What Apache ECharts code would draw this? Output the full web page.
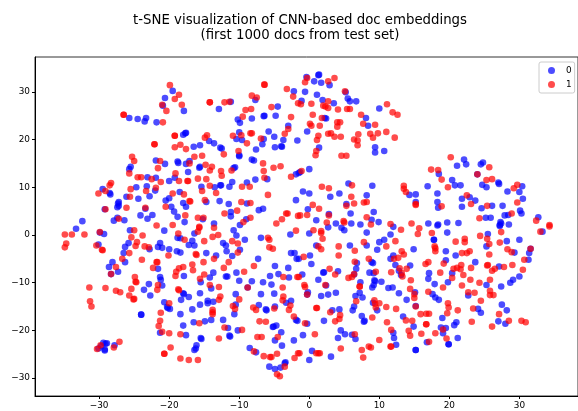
<!DOCTYPE html>
<html>
<head>
<meta charset="utf-8">
<script src="https://cdn.jsdelivr.net/npm/echarts@6/dist/echarts.min.js"></script>
<style>html,body{margin:0;padding:0;background:#fff}#c{width:578px;height:411px}</style>
</head>
<body>
<div id="c"></div>
<script>
const titleLines = ['t-SNE visualization of CNN-based doc embeddings', '(first 1000 docs from test set)'];
const classNames = ['0', '1'];
const xTicks = [-30, -20, -10, 0, 10, 20, 30];
const yTicks = [-30, -20, -10, 0, 10, 20, 30];
const class0 = [
[-19.5,30.2],[-20.6,28.7],[-20.9,27.1],[-17.9,26.0],[-25.7,24.5],[-24.5,24.3],[-23.3,24.5],[-23.5,23.8],[-21.8,23.6],[-12.9,26.4],[-11.2,27.9],[-7.7,28.3],[-2.2,30.1],[-4.5,26.9],[-6.5,24.9],[-6.4,25.0],[-4.8,25.0],[-8.2,24.4],[-10.2,24.2],[-9.9,23.5],[-3.0,22.9],[-17.6,21.4],[-17.7,21.3],[-18.0,21.0],[-10.0,21.5],[-10.4,20.1],[-9.6,19.9],[-5.8,21.7],[-5.0,20.6],[-6.5,20.1],[-6.7,19.0],[-7.6,17.9],[-3.7,19.9],[-4.9,18.4],[-3.9,18.5],[-4.0,18.6],[-1.7,19.8],[-14.3,19.7],[-13.6,19.2],[-12.7,18.3],[-12.5,18.1],[-16.5,18.5],[-15.6,18.8],[-10.0,16.5],[-10.0,16.7],[-8.2,15.8],[-7.9,15.6],[-18.8,15.4],[-18.7,15.1],[-21.9,15.6],[-20.6,14.9],[-17.6,14.9],[-17.1,15.5],[-15.7,14.1],[-15.6,14.3],[-17.3,13.2],[-10.6,14.2],[-10.8,14.0],[-25.5,14.3],[-25.7,13.8],[-23.1,12.1],[-21.9,12.0],[-20.0,11.3],[-19.2,12.0],[-11.0,11.1],[-7.7,11.6],[-8.9,11.0],[-6.0,11.7],[-1.9,12.7],[-1.5,13.0],[-12.6,10.4],[-12.7,10.4],[-13.5,10.0],[-11.4,10.1],[-15.4,10.1],[-24.7,10.0],[-23.2,10.2],[-22.0,9.3],[-29.5,9.6],[-28.4,8.5],[-28.5,8.8],[-26.1,8.0],[-24.4,7.6],[-22.8,8.1],[-18.5,9.0],[-20.0,7.7],[-20.5,7.2],[-18.0,6.7],[-17.6,5.9],[-14.7,6.9],[-12.8,7.1],[-11.5,6.5],[-8.9,6.6],[-6.6,5.5],[-7.2,5.2],[-1.9,7.3],[-27.2,6.9],[-27.3,6.6],[-27.2,6.1],[-27.4,5.8],[-29.2,5.4],[-19.7,5.9],[-19.3,4.9],[-18.8,3.8],[-23.4,5.5],[-24.1,4.1],[-22.4,4.2],[-23.1,3.4],[-32.4,2.9],[-27.9,3.0],[-27.4,3.6],[-26.4,3.1],[-11.2,4.8],[-11.2,3.9],[-9.0,3.3],[-15.2,3.3],[-17.8,2.7],[-13.6,2.4],[-9.9,2.1],
[-0.4,33.1],[1.3,33.5],[1.4,33.6],[0.7,32.2],[1.7,31.9],[2.9,31.4],[-0.6,30.0],[1.1,29.4],[5.2,29.9],[1.9,28.3],[3.5,27.6],[-1.1,28.1],[5.5,28.6],[5.8,28.0],[6.7,28.0],[10.0,26.5],[2.4,24.4],[2.2,24.5],[8.1,24.5],[8.4,22.9],[-0.3,21.7],[1.4,18.3],[9.4,18.4],[9.4,17.3],[10.7,17.6],[0,13.8],[-1.3,13.2],[22.1,15.8],[21.1,14.5],[22.4,14.8],[24.5,14.8],[24.8,15.2],[18.5,12.8],[24.0,12.7],[20.4,11.5],[20.8,10.4],[21.6,10.4],[24.7,10.5],[25.3,10.0],[27.0,11.0],[27.1,10.7],[30.4,10.2],[30.0,9.0],[30.5,7.6],[28.3,9.1],[16.9,10.2],[18.3,8.7],[14.3,8.4],[15.2,8.5],[15.2,6.9],[18.3,6.9],[18.4,5.7],[21.8,5.9],[21.8,7.6],[22.9,7.9],[23.7,7.2],[24.6,5.6],[26.1,6.1],[27.6,6.1],[30.1,5.1],[30.3,4.5],[27.9,4.1],[28.4,4.2],[25.2,3.6],[25.9,3.6],[27.3,2.7],[27.4,2.4],[32.7,3.7],[28.5,2.2],[-0.9,9.1],[0,8.7],[3.0,8.0],[4.3,8.7],[5.6,10.8],[9.0,10.3],[8.2,8.3],[5.3,6.5],[5.9,4.5],[9.2,4.8],[-0.2,5.4],[2.8,4.4],[1.0,3.1],[3.8,2.4],[6.0,2.4],[7.3,2.2],[8.9,3.2],[9.9,2.7],[17.0,2.4],[18.4,2.2],[18.3,2.0],[19.7,2.6],[21.3,2.5],
[-33.3,1.3],[-29.9,0.5],[-29.3,0.2],[-25.6,1.0],[-20.7,0.9],[-18.8,-0.6],[-18.4,-0.7],[-30.1,-2.0],[-25.8,-1.7],[-26.3,-2.5],[-26.5,-3.8],[-26.3,-5.7],[-21.3,-1.7],[-21.6,-2.5],[-21.0,-2.7],[-22.8,-3.0],[-20.0,-3.0],[-18.9,-3.4],[-18.4,-3.7],[-17.2,-2.1],[-16.7,-1.2],[-16.4,-2.2],[-16.4,0.3],[-14.7,-3.8],[-13.3,-4.3],[-12.3,-1.7],[-11.9,-2.2],[-11.8,-3.4],[-11.0,-4.4],[-10.8,1.0],[-10.4,-0.1],[-9.2,-1.0],[-9.9,-3.1],[-6.9,-0.6],[-7.3,-5.0],[-2.7,0.1],[-2.6,-3.8],[-2.1,-3.8],[-1.8,-5.0],[-4.9,-6.5],[-3.0,-6.9],[-28.1,-5.7],[-28.6,-6.7],[-27.3,-7.7],[-28.3,-8.2],[-21.6,-7.1],[-21.3,-8.8],[-21.2,-9.4],[-21.0,-10.6],[-22.9,-10.3],[-23.6,-11.5],[-22.7,-12.7],[-17.9,-8.6],[-15.5,-9.9],[-14.2,-8.9],[-13.7,-7.9],[-14.0,-11.2],[-11.9,-8.7],[-11.7,-8.7],[-10.4,-7.9],[-10.0,-9.6],[-8.2,-9.7],[-6.6,-9.9],[-5.6,-8.6],[-4.4,-8.2],[-2.9,-8.9],[-5.4,-10.4],[-8.8,-11.0],[-17.9,-12.4],[-18.0,-12.2],[-17.2,-13.0],[-18.3,-13.6],[-15.6,-12.2],[-14.5,-13.8],[-14.5,-14.3],[-15.6,-14.6],[-13.7,-14.0],[-10.5,-12.4],[-6.9,-12.4],[-5.0,-12.3],[-20.7,-14.1],[-20.2,-15.3],[-20.3,-15.1],[-19.9,-15.5],[-16.7,-15.6],[-10.5,-14.6],[-10.7,-16.6],[-7.2,-14.7],[-6.1,-15.8],[-6.2,-15.6],[-4.9,-15.0],[-3.3,-14.2],[-2.6,-13.8],[-18.4,-16.6],[-24.0,-16.7],[-24.0,-16.7],[-18.0,-19.0],[-16.5,-18.3],[-14.9,-18.1],[-14.0,-17.8],[-12.3,-17.8],[-11.6,-19.5],[-1.9,-17.8],[-1.7,-18.0],[-21.3,-20.5],[-17.6,-21.0],[-15.4,-21.8],[-15.5,-21.6],[-11.3,-21.3],[-11.4,-21.1],[-10.2,-20.0],[-5.1,-19.2],[-5.2,-19.3],[-4.7,-19.0],[-4.0,-20.4],[-4.9,-22.1],[-3.9,-23.2],[-2.2,-22.1],[-8.5,-23.7],[-7.6,-24.6],[-16.1,-23.1],[-16.4,-24.1],[-16.2,-23.8],[-29.4,-22.6],[-28.9,-22.7],[-29.1,-22.8],[-30.1,-23.8],[-29.2,-24.2],[-29.2,-24.0],[-27.8,-23.1],[-29.7,-23.3],[-5.7,-27.6],[-4.9,-28.1],[-4.1,-27.8],[-3.4,-26.7],[-3.5,-26.9],
[0,0.3],[2.7,1.6],[4.6,1.5],[5.0,1.0],[8.2,0.5],[11.6,0.1],[10.7,-1.0],[10.0,-1.5],[12.0,1.7],[8.2,-2.2],[5.8,-2.2],[9.7,-3.1],[1.0,-2.2],[0.1,-4.3],[0.3,-6.1],[-1.0,-8.3],[-1.5,-5.0],[2.0,-7.9],[2.1,-7.8],[4.1,-7.6],[1.3,-9.4],[2.4,-10.6],[-0.2,-12.0],[-0.3,-12.5],[1.7,-12.8],[2.7,-12.5],[3.8,-12.1],[6.8,-5.9],[6.7,-7.1],[6.4,-8.3],[7.3,-9.9],[8.9,-5.7],[9.1,-5.9],[8.6,-7.9],[9.2,-8.0],[11.6,-5.0],[12.0,-4.3],[12.3,-6.3],[12.8,-7.5],[13.1,-8.4],[14.4,-6.4],[14.9,-3.0],[9.4,-9.7],[9.3,-9.5],[9.2,-10.5],[10.3,-9.8],[9.0,-11.0],[11.3,-11.1],[11.9,-11.0],[12.8,-12.2],[7.2,-12.1],[6.6,-12.8],[7.6,-13.1],[13.9,-13.6],[15.1,-12.0],[17.0,-9.2],[17.1,-8.0],[17.9,-10.3],[19.8,-9.9],[20.4,-8.0],[19.5,-5.3],[20.9,-4.3],[23.7,-5.7],[19.5,-3.4],[17.6,-12.4],[18.0,-13.1],[18.5,-13.6],[9.1,-14.2],[9.7,-15.8],[6.4,-15.0],[6.2,-15.8],[4.3,-15.6],[3.3,-15.8],[2.1,-18.0],[-0.3,-18.6],[7.5,-17.0],[7.9,-18.0],[7.8,-18.2],[13.4,-17.1],[15.2,-14.9],[14.9,-19.2],[19.0,-17.4],[18.8,-19.4],[19.5,-19.5],[19.1,-20.6],[20.7,-18.9],[21.0,-18.3],[21.2,-21.6],[12.0,-20.5],[12.1,-21.6],[12.4,-23.0],[4.5,-20.0],[4.1,-21.6],[5.1,-20.8],[6.1,-20.9],[6.6,-21.8],[-0.9,-21.0],[0.4,-24.3],[0,-26.2],[3.1,-25.5],[15.2,-24.1],[15.2,-24.1],[19.9,-22.9],[19.9,-22.9],[16.8,-22.5],[24.1,-15.5],[24.5,-16.3],[22.7,-12.7],[25.3,-10.5],[27.4,-10.8],[27.5,-14.6],[28.2,-15.8],[27.0,-18.1],[28.0,-18.6],[28.7,-10.0],[29.1,-9.4],[30.0,-8.7],[27.1,-6.6],[29.3,-3.7],[28.2,-1.3],[30.0,-1.0],[31.4,-3.8],[31.3,-5.2],[31.6,-2.9],[33.3,0.7],[25.3,-2.4],[25.5,0.2],[27.2,1.9],[27.2,2.1],[19.7,0.5],[17.8,-1.0],[17.8,-1.0]
];
const class1 = [
[-19.9,31.4],[-18.6,29.4],[-19.2,28.5],[-21.0,27.3],[-20.4,26.0],[-18.2,27.3],[-26.5,25.2],[-26.5,25.2],[-20.9,23.6],[-6.4,31.5],[-6.4,31.5],[-3.2,30.6],[-2.3,29.0],[-8.2,29.2],[-7.5,28.8],[-14.2,27.8],[-14.2,27.8],[-12.1,27.8],[-11.4,27.9],[-9.1,26.2],[-8.3,26.4],[-9.5,24.8],[-5.4,26.8],[-2.6,24.7],[-1.6,27.6],[-19.2,20.8],[-19.2,20.8],[-14.6,20.9],[-14.9,20.4],[-10.9,20.8],[-9.7,20.9],[-8.4,21.3],[-8.2,21.3],[-6.9,20.2],[-8.9,19.2],[-3.0,22.2],[-3.5,21.2],[-22.1,19.0],[-22.1,19.0],[-19.2,18.4],[-18.4,18.9],[-17.6,18.0],[-10.1,17.6],[-12.2,16.9],[-16.4,16.4],[-15.3,16.6],[-25.3,16.4],[-25.0,15.5],[-21.3,15.5],[-17.1,15.0],[-14.8,14.7],[-13.9,14.3],[-14.2,13.5],[-12.6,13.4],[-12.5,12.4],[-11.1,13.5],[-6.6,15.0],[-6.5,13.4],[-6.4,12.0],[-5.1,14.1],[-4.1,14.4],[-2.6,12.2],[-21.6,14.0],[-25.7,12.9],[-19.1,12.9],[-24.5,12.1],[-24.0,12.1],[-22.5,11.7],[-21.2,11.1],[-18.6,11.3],[-17.3,11.3],[-17.4,11.3],[-15.9,11.8],[-14.7,11.7],[-28.3,10.9],[-28.5,10.4],[-30.1,8.7],[-29.1,9.2],[-25.5,9.6],[-23.3,9.2],[-21.9,9.9],[-19.5,8.7],[-17.9,8.5],[-17.1,7.1],[-17.0,7.0],[-15.3,9.2],[-14.2,10.3],[-13.3,8.8],[-9.6,10.1],[-8.5,10.1],[-5.9,8.4],[-14.9,7.3],[-9.7,6.9],[-8.4,6.7],[-25.6,8.0],[-26.1,5.7],[-23.4,5.7],[-20.5,5.9],[-29.1,5.4],[-17.7,4.1],[-15.9,3.6],[-15.1,3.6],[-12.1,4.5],[-10.3,5.1],[-3.1,4.5],[-3.3,4.5],[-1.6,4.0],[-3.9,3.3],[-4.7,2.4],[-8.4,3.6],[-9.4,2.7],[-27.2,3.4],[-21.8,2.0],[-19.5,2.1],[-15.7,1.7],
[-0.3,32.9],[-0.6,32.0],[2.7,32.2],[3.6,32.9],[5.1,30.1],[2.7,28.0],[0.3,27.5],[-1.2,27.4],[2.0,27.1],[2.3,26.9],[2.7,26.6],[4.1,26.3],[5.4,26.4],[5.8,26.4],[0.5,25.2],[1.8,24.5],[7.4,25.2],[11.1,27.4],[11.9,25.7],[12.6,25.2],[0.1,23.3],[0.3,22.9],[1.5,22.9],[4.0,23.6],[4.4,23.6],[4.0,22.7],[7.7,23.3],[9.4,23.1],[9.8,21.3],[8.7,21.2],[9.1,20.4],[11.0,21.6],[12.2,20.4],[7.0,21.1],[2.7,21.2],[3.1,21.3],[3.6,20.6],[4.5,20.6],[1.3,20.8],[1.1,19.9],[6.4,20.0],[6.9,19.8],[6.9,18.8],[1.0,17.6],[0.9,16.7],[4.6,16.6],[5.3,16.6],[-1.1,13.4],[20.2,16.3],[25.7,14.2],[17.4,13.7],[18.4,13.6],[18.9,11.6],[19.8,10.0],[24.0,12.7],[25.3,11.5],[26.1,11.7],[29.2,9.8],[29.7,10.5],[29.7,6.8],[28.9,4.5],[22.5,8.3],[23.1,6.5],[25.4,6.1],[18.9,6.0],[24.3,3.5],[32.4,3.0],[34.3,2.1],[13.5,10.3],[13.5,9.7],[13.8,9.0],[15.2,6.5],[15.2,6.3],[1.8,10.1],[2.8,9.8],[6.1,10.4],[6.0,8.0],[6.4,6.6],[5.3,6.1],[7.8,6.8],[8.2,6.9],[0.5,6.3],[1.4,5.5],[-1.3,4.1],[-0.3,4.2],[2.8,4.1],[8.2,3.7],[2.5,2.6],[4.9,2.9],[5.0,2.6],[11.6,2.3],[14.6,2.4],[8.8,2.2],
[-34.9,0.1],[-33.9,0.1],[-32.1,0.1],[-29.9,0.6],[-34.7,-1.8],[-34.9,-2.6],[-30.4,-2.2],[-29.6,-3.1],[-29.5,-3.2],[-25.0,1.0],[-25.4,-0.5],[-23.8,-0.1],[-24.6,-1.5],[-24.8,-2.3],[-23.5,-2.4],[-22.9,-2.6],[-25.7,-3.8],[-26.7,-5.0],[-23.9,-5.2],[-27.6,-6.7],[-28.3,-8.2],[-21.7,-5.7],[-21.8,-5.7],[-22.3,-6.9],[-20.1,-4.3],[-18.7,0.3],[-17.8,-1.0],[-15.7,1.5],[-15.9,0.7],[-13.6,1.5],[-13.8,-0.4],[-13.0,0],[-15.0,-1.3],[-11.0,-1.3],[-10.2,-1.8],[-10.2,-3.7],[-16.2,-4.0],[-16.1,-4.2],[-13.6,-5.0],[-15.1,-5.7],[-16.7,-6.2],[-16.6,-7.4],[-18.0,-6.7],[-18.6,-7.0],[-19.0,-7.7],[-19.1,-8.6],[-12.2,-6.9],[-11.5,-5.7],[-9.3,-7.7],[-7.9,-6.5],[-5.9,-0.6],[-5.7,-1.0],[-5.7,-2.6],[-5.2,-2.9],[-1.9,0.9],[-24.9,-8.8],[-24.7,-9.9],[-24.8,-9.8],[-21.6,-10.5],[-21.7,-11.5],[-25.4,-11.3],[-31.4,-11.0],[-29.1,-11.1],[-27.6,-11.7],[-27.0,-12.0],[-25.7,-12.7],[-25.1,-13.5],[-25.0,-13.4],[-31.3,-13.9],[-31.1,-15.0],[-18.7,-11.4],[-18.6,-11.6],[-15.6,-9.2],[-15.0,-8.3],[-14.2,-10.5],[-12.9,-10.9],[-12.7,-12.9],[-12.9,-13.6],[-10.0,-13.5],[-20.0,-14.3],[-21.2,-16.3],[-13.8,-15.7],[-13.8,-16.6],[-13.8,-16.2],[-10.9,-14.9],[-10.6,-15.5],[-21.3,-18.0],[-21.5,-19.1],[-21.0,-20.3],[-20.0,-20.6],[-18.4,-20.8],[-15.7,-18.5],[-12.1,-19.4],[-9.6,-19.9],[-12.9,-21.7],[-19.8,-23.6],[-20.7,-24.9],[-20.7,-24.9],[-18.4,-25.9],[-17.2,-26.2],[-15.9,-26.2],[-27.1,-22.4],[-29.8,-23.1],[-30.3,-23.9],[-27.9,-23.6],[-8.8,-11.0],[-8.0,-15.2],[-7.6,-15.7],[-7.1,-18.1],[-6.2,-18.2],[-7.4,-21.4],[-6.8,-21.4],[-5.0,-15.4],[-3.7,-12.9],[-3.8,-13.7],[-3.8,-11.0],[-3.7,-8.8],[-1.7,-8.8],[-2.7,-14.8],[-2.9,-15.7],[-2.2,-17.1],[-4.5,-21.4],[-7.9,-24.4],[-6.5,-25.4],[-5.6,-25.6],[-5.4,-25.6],[-4.6,-24.9],[-3.5,-27.6],[-4.6,-29.2],[-4.2,-29.6],[-2.1,-25.8],[-1.6,-24.8],
[0.6,1.0],[1.7,0.8],[1.7,0.4],[1.9,-0.8],[13.1,1.1],[15.7,1.4],[15.5,0.2],[17.5,0.4],[12.3,-1.3],[11.0,-2.4],[7.8,-1.5],[6.5,-3.3],[4.2,-2.4],[4.2,-4.3],[1.3,-2.4],[1.7,-3.0],[-0.8,-4.6],[6.5,-5.6],[2.9,-7.1],[3.7,-8.3],[5.6,-9.0],[6.1,-8.8],[6.4,-8.2],[-1.5,-8.8],[2.3,-10.5],[-0.7,-10.5],[-0.6,-10.9],[-0.3,-12.5],[7.2,-10.8],[7.2,-10.8],[6.7,-13.9],[8.5,-5.0],[9.5,-7.7],[11.7,-7.8],[12.1,-5.0],[12.7,-4.8],[13.2,-3.4],[13.5,-4.1],[12.9,-7.0],[13.9,-7.1],[13.3,-8.7],[13.2,-8.0],[14.5,-9.5],[14.4,-11.3],[15.0,-12.4],[15.0,-13.2],[9.3,-13.7],[10.0,-14.3],[9.5,-15.2],[9.4,-14.4],[11.0,-15.1],[12.4,-15.5],[15.2,-15.0],[15.9,-16.6],[16.7,-16.5],[17.1,-16.5],[17.0,-11.9],[1.0,-15.3],[1.1,-15.3],[3.0,-16.2],[4.4,-16.8],[4.3,-17.6],[3.7,-18.1],[9.0,-17.3],[-0.6,-18.5],[0.8,-20.8],[6.5,-20.8],[4.5,-23.8],[10.0,-22.0],[7.5,-24.1],[8.5,-23.4],[8.8,-23.6],[7.7,-25.7],[1.0,-24.8],[1.5,-24.8],[1.3,-24.8],[-1.4,-24.8],[11.1,-18.3],[11.7,-19.9],[13.8,-17.9],[14.7,-18.0],[14.2,-20.1],[14.4,-21.1],[16.0,-20.7],[16.7,-18.7],[16.7,-18.7],[18.0,-20.6],[17.1,-22.4],[11.6,-23.4],[11.7,-23.4],[19.1,-19.8],[19.6,-21.7],[19.8,-14.3],[19.9,-15.2],[19.7,-16.4],[21.2,-15.8],[19.1,-11.0],[18.7,-7.9],[16.6,-6.1],[17.0,-5.7],[19.2,-6.0],[20.6,-7.1],[20.4,-9.0],[21.1,-6.9],[21.7,-6.3],[21.6,-7.2],[22.0,-8.4],[21.8,-10.6],[23.0,-9.4],[24.3,-10.0],[23.1,-6.9],[22.7,-12.0],[23.6,-12.1],[24.5,-13.8],[23.4,-15.4],[23.2,-18.2],[26.1,-19.2],[27.1,-16.6],[28.5,-18.0],[30.3,-18.0],[30.9,-18.3],[25.8,-9.4],[25.8,-11.7],[25.8,-12.6],[26.3,-12.6],[25.4,-6.4],[25.5,-6.3],[26.1,-7.5],[26.5,-7.1],[27.8,-6.7],[29.0,-6.3],[30.5,-7.3],[30.7,-5.2],[31.6,-2.9],[28.3,-3.0],[28.9,-3.6],[25.7,-1.9],[25.4,-0.8],[25.7,-4.1],[27.2,-1.6],[24.4,-0.2],[27.4,0.6],[22.2,-0.8],[22.2,-1.5],[20.9,-1.4],[22.9,-3.4],[22.5,-3.8],[21.8,-3.8],[17.9,-2.4],[18.0,-3.4],[18.0,-2.8],[33.0,0.7],[34.3,1.8]
];
const xRange = [-39.16, 38.37];
const yRange = [-33.75, 37.3];

const font = '"DejaVu Sans", sans-serif';
const chart = echarts.init(document.getElementById('c'), null, {renderer: 'canvas'});
function axis(ticks, range, margin) {
  return {
    type: 'value', min: range[0], max: range[1], scale: true,
    splitLine: {show: false},
    axisLine: {show: true, onZero: false, lineStyle: {color: '#000', width: 1}},
    axisTick: {show: true, length: 3, customValues: ticks, lineStyle: {color: '#000', width: 1}},
    axisLabel: {customValues: ticks, color: '#000', fontFamily: font, fontSize: 8.9, margin,
      formatter: v => String(v).replace('-', '\u2212')}
  };
}
function series(name, data, color) {
  return {name, type: 'scatter', data, symbol: 'circle', symbolSize: 6.6,
    itemStyle: {color, opacity: 0.7, borderWidth: 0}, animation: false, silent: true, clip: true};
}
chart.setOption({
  animation: false,
  backgroundColor: '#fff',
  title: {
    text: titleLines.join('\n'), left: 295, top: 8, textAlign: 'center',
    textStyle: {fontFamily: font, fontSize: 13.3, fontWeight: 'normal', color: '#000', lineHeight: 15}
  },
  grid: {show: true, left: 35, top: 57, width: 545, height: 339, borderColor: '#333', borderWidth: 1, backgroundColor: 'transparent'},
  xAxis: axis(xTicks, xRange, 5),
  yAxis: axis(yTicks, yRange, 5),
  legend: {
    data: classNames, left: 539, top: 62, orient: 'vertical', icon: 'circle',
    itemWidth: 7, itemHeight: 7, itemGap: 5, padding: [4, 3, 4, 9],
    borderColor: '#ccc', borderWidth: 1, borderRadius: 2, backgroundColor: 'rgba(255,255,255,0.8)',
    selectedMode: false,
    textStyle: {fontFamily: font, fontSize: 8.9, color: '#000', padding: [0, 0, 0, 6]}
  },
  series: [series(classNames[0], class0, '#0000ff'), series(classNames[1], class1, '#ff0000')]
});
</script>
</body>
</html>
